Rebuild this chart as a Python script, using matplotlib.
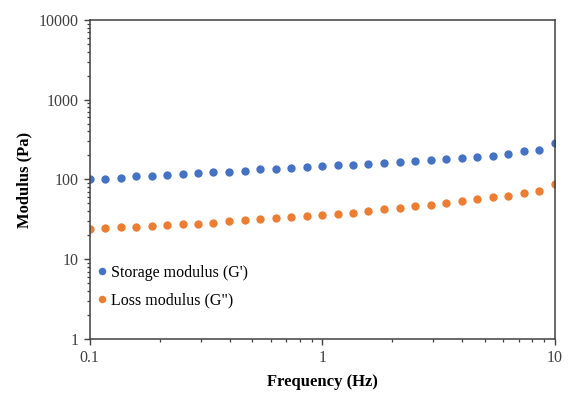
import matplotlib.pyplot as plt
from matplotlib.ticker import LogLocator, FixedLocator, FixedFormatter, NullFormatter

plt.rcParams['font.family'] = ['Liberation Serif', 'DejaVu Serif']

# frequency sweep, Hz
freq = [0.1, 0.117, 0.136, 0.158, 0.185, 0.215, 0.251, 0.293, 0.341, 0.398,
        0.464, 0.541, 0.631, 0.736, 0.858, 1.0, 1.17, 1.36, 1.58, 1.85,
        2.15, 2.51, 2.93, 3.41, 3.98, 4.64, 5.41, 6.31, 7.36, 8.58, 10.0]

# storage modulus G', Pa
g_storage = [100.6, 102.3, 105.3, 109.7, 111.6, 114.9, 117.3, 119.7, 123.1, 125.4,
             127.8, 134.3, 136.7, 140.6, 143.6, 147.6, 150.7, 153.5, 157.9, 162.6,
             166.5, 172.1, 175.6, 182.3, 186.1, 191.5, 198.9, 210.9, 225.7, 236.5,
             286.8]

# loss modulus G'', Pa
g_loss = [23.7, 24.7, 25.2, 25.6, 26.1, 26.9, 27.4, 27.9, 28.5, 29.9,
          30.8, 31.7, 32.6, 33.9, 34.9, 35.9, 37.3, 38.3, 40.3, 42.7,
          44.3, 46.1, 48.3, 50.7, 53.8, 56.5, 59.8, 62.1, 67.1, 72.4,
          87.9]

xticks = [0.1, 1, 10]
xticklabels = ['0.1', '1', '10']
yticks = [1, 10, 100, 1000, 10000]
yticklabels = ['1', '10', '100', '1000', '10000']

fig = plt.figure(figsize=(5.72, 3.95), dpi=100)
ax = fig.add_axes([0.1565, 0.1418, 0.8135, 0.8076])

ax.plot(freq, g_storage, 'o', color='#4472C4', markersize=6, markeredgewidth=0,
        label="Storage modulus (G')")
ax.plot(freq, g_loss, 'o', color='#ED7D31', markersize=6, markeredgewidth=0,
        label='Loss modulus (G")')

ax.set_xscale('log')
ax.set_yscale('log')
ax.set_xlim(0.1, 10)
ax.set_ylim(1, 10000)

ax.xaxis.set_major_locator(FixedLocator(xticks))
ax.xaxis.set_major_formatter(FixedFormatter(xticklabels))
ax.yaxis.set_major_locator(FixedLocator(yticks))
ax.yaxis.set_major_formatter(FixedFormatter(yticklabels))
ax.xaxis.set_minor_locator(LogLocator(base=10, subs=range(2, 10)))
ax.yaxis.set_minor_locator(LogLocator(base=10, subs=range(2, 10)))
ax.xaxis.set_minor_formatter(NullFormatter())
ax.yaxis.set_minor_formatter(NullFormatter())

for side in ax.spines.values():
    side.set_color('#404040')
    side.set_linewidth(1.1)

ax.tick_params(which='major', direction='out', length=4, width=1.0,
               color='#404040', labelsize=11.5, labelcolor='#404040', pad=4)
ax.tick_params(which='minor', direction='out', length=2.5, width=0.9,
               color='#404040')

ax.set_xlabel('Frequency (Hz)', fontsize=12, fontweight='bold', labelpad=6)
ax.set_ylabel('Modulus (Pa)', fontsize=12, fontweight='bold', labelpad=4)

ax.legend(loc='lower left', bbox_to_anchor=(-0.01, 0.06), frameon=False,
          fontsize=11.5, handletextpad=0.15, labelspacing=0.75,
          handlelength=0.8, borderaxespad=0.3, markerscale=0.9)

fig.savefig('out.png', dpi=100)
